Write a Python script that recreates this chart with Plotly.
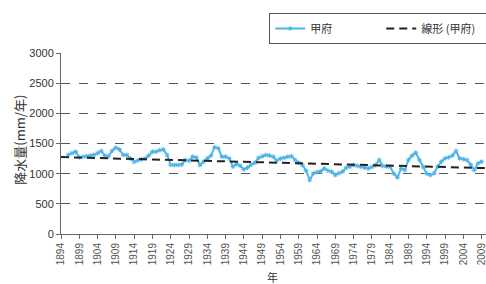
import plotly.graph_objects as go

years = list(range(1896, 2010))
kofu = [1310, 1340, 1364, 1270, 1280, 1290, 1300, 1310, 1340, 1375,
        1300, 1290, 1380, 1430, 1400, 1310, 1310, 1250, 1195, 1220,
        1237, 1250, 1300, 1364, 1364, 1390, 1400, 1310, 1143, 1143,
        1143, 1150, 1226, 1215, 1281, 1270, 1143, 1200, 1254, 1300,
        1436, 1420, 1281, 1281, 1250, 1115, 1160, 1130, 1070, 1100,
        1150, 1180, 1260, 1290, 1309, 1300, 1281, 1215, 1250, 1265,
        1280, 1290, 1226, 1180, 1143, 1050, 895, 1006, 1025, 1040,
        1088, 1050, 1033, 977, 1010, 1033, 1100, 1115, 1143, 1130,
        1115, 1100, 1088, 1110, 1143, 1226, 1126, 1120, 1115, 1000,
        939, 1088, 1060, 1226, 1300, 1348, 1226, 1110, 1000, 977,
        1006, 1120, 1200, 1254, 1270, 1300, 1375, 1254, 1240, 1226,
        1150, 1060, 1171, 1199]

trend_years = [1894, 2010.2]
trend_vals = [1275, 1092]

tick_years = list(range(1894, 2010, 5))
tick_labels = [str(y) for y in tick_years]

y_ticks = [0, 500, 1000, 1500, 2000, 2500, 3000]

font_family = "Liberation Sans, Arial, sans-serif"
cjk = "Noto Sans CJK JP"

fig = go.Figure()
fig.add_trace(go.Scatter(
    x=years, y=kofu, mode="lines+markers", name="甲府",
    line=dict(color="#4fb4e6", width=2),
    marker=dict(symbol="asterisk-open", size=4, color="#4fb4e6",
                line=dict(color="#4fb4e6", width=1)),
))
fig.add_trace(go.Scatter(
    x=trend_years, y=trend_vals, mode="lines", name="線形 (甲府)",
    line=dict(color="#222222", width=2, dash="8px,5px"),
))

fig.update_layout(
    width=486, height=284,
    margin=dict(l=61, r=0, t=53, b=50, autoexpand=False),
    paper_bgcolor="white", plot_bgcolor="white",
    font=dict(family=font_family, size=11, color="#333333"),
    showlegend=True,
    legend=dict(
        orientation="h", x=0.49, xanchor="left", y=1.05, yanchor="bottom",
        bordercolor="#555555", borderwidth=1, bgcolor="white",
        font=dict(family=cjk, size=11, color="#333333"),
        itemwidth=30, entrywidth=66, entrywidthmode="pixels",
    ),
    xaxis=dict(
        range=[1894, 2010.2], automargin=False,
        tickmode="array", tickvals=tick_years, ticktext=tick_labels,
        tickangle=-90, tickfont=dict(size=10, color="#555555"),
        ticklabeloverflow="allow",
        ticks="outside", ticklen=4, tickcolor="#666666",
        showline=True, linecolor="#666666", linewidth=1,
        showgrid=False, zeroline=False,
    ),
    yaxis=dict(
        range=[0, 3000], automargin=False,
        tickmode="array", tickvals=y_ticks,
        tickfont=dict(size=11, color="#333333"),
        ticks="outside", ticklen=4, tickcolor="#666666",
        showline=True, linecolor="#666666", linewidth=1,
        showgrid=True, gridcolor="#555555", griddash="dash", gridwidth=1,
        zeroline=False,
    ),
    annotations=[
        dict(text="年", xref="paper", yref="paper", x=0.497, y=-0.235,
             xanchor="center", yanchor="middle", showarrow=False,
             font=dict(family=cjk, size=11, color="#333333")),
        dict(text="降水量(mm/年)", xref="paper", yref="paper", x=-0.097, y=0.52,
             xanchor="center", yanchor="middle", showarrow=False, textangle=-90,
             font=dict(family=cjk, size=13, color="#333333")),
    ],
)

fig.write_html("out.html", config={"displayModeBar": False},
               post_script="document.body.style.margin='0';document.body.style.overflow='hidden';")
